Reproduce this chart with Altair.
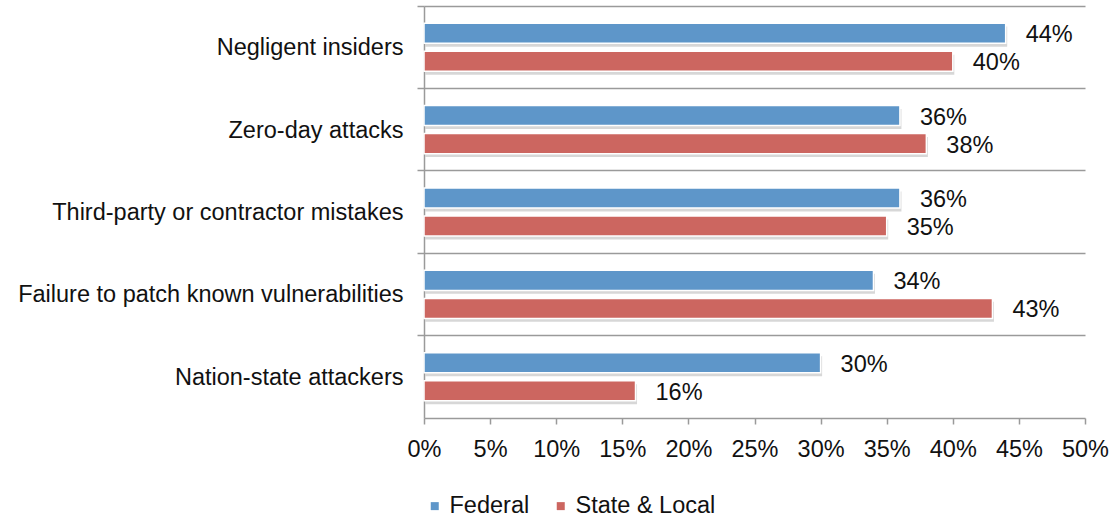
import altair as alt
import pandas as pd

# Survey categories, top to bottom
categories = [
    "Negligent insiders",
    "Zero-day attacks",
    "Third-party or contractor mistakes",
    "Failure to patch known vulnerabilities",
    "Nation-state attackers",
]
series = ["Federal", "State & Local"]
federal = [44, 36, 36, 34, 30]
state_local = [40, 38, 35, 43, 16]
x_ticks = [0, 5, 10, 15, 20, 25, 30, 35, 40, 45, 50]

rows = []
for cat, f, s in zip(categories, federal, state_local):
    rows.append({"category": cat, "series": series[0], "value": f})
    rows.append({"category": cat, "series": series[1], "value": s})
df = pd.DataFrame(rows)

FONT = "Liberation Sans"
FS = 23.5
AXIS_GREY = "#9a9a9a"
TEXT = "#111111"
colors = ["#5e96c9", "#cc6660"]

y_enc = alt.Y(
    "category:N",
    sort=categories,
    title=None,
    scale=alt.Scale(paddingInner=0, paddingOuter=0),
    axis=alt.Axis(
        bandPosition=0,
        grid=True,
        gridColor=AXIS_GREY,
        gridWidth=1.5,
        domainColor=AXIS_GREY,
        domainWidth=1.5,
        tickColor=AXIS_GREY,
        tickWidth=1.5,
        tickSize=7,
        labelFont=FONT,
        labelFontSize=FS,
        labelColor=TEXT,
        labelPadding=14,
        labelLimit=420,
        labelOffset=1,
    ),
)
x_enc = alt.X(
    "value:Q",
    title=None,
    scale=alt.Scale(domain=[0, 50], nice=False),
    axis=alt.Axis(
        values=x_ticks,
        labelExpr="datum.value + '%'",
        labelFlush=False,
        labelOverlap=False,
        grid=False,
        domainColor=AXIS_GREY,
        domainWidth=1.5,
        tickColor=AXIS_GREY,
        tickWidth=1.5,
        tickSize=6,
        labelFont=FONT,
        labelFontSize=FS,
        labelColor=TEXT,
        labelPadding=13,
    ),
)


def offset(align=0.5):
    # two bars per category band, placed around the band's middle
    return alt.YOffset(
        "series:N",
        sort=series,
        scale=alt.Scale(
            type="band", paddingInner=0.2857, paddingOuter=0.612, align=align
        ),
    )


# drop shadow: same bands nudged a few pixels downward
shadow = alt.Chart(df).mark_bar(
    color="#7a7a7a", opacity=0.3, xOffset=1.5
).encode(y=y_enc, yOffset=offset(0.6), x=x_enc)

bars = alt.Chart(df).mark_bar(stroke="white", strokeWidth=1.5).encode(
    y=y_enc,
    yOffset=offset(),
    x=x_enc,
    color=alt.Color(
        "series:N",
        sort=series,
        scale=alt.Scale(domain=series, range=colors),
        legend=alt.Legend(
            title=None,
            orient="none",
            legendX=-1,
            legendY=488,
            direction="horizontal",
            symbolType="square",
            symbolSize=64,
            symbolStrokeWidth=0,
            labelFont=FONT,
            labelFontSize=FS,
            labelColor=TEXT,
            columnPadding=19,
            labelOffset=3,
        ),
    ),
)

labels = alt.Chart(df).mark_text(
    align="left", baseline="middle", dx=20, dy=2,
    font=FONT, fontSize=FS, color=TEXT,
).encode(
    y=y_enc, yOffset=offset(), x=x_enc, text=alt.Text("label:N")
).transform_calculate(label="datum.value + '%'")

chart = (
    alt.layer(shadow, bars, labels)
    .resolve_scale(yOffset="independent")
    .properties(
        width=661,
        height=412,
        autosize=alt.AutoSizeParams(type="none"),
        padding={"left": 424, "top": 6, "right": 29, "bottom": 100},
        background="white",
    )
    .configure_view(stroke=None)
)

chart.save("out.html", embed_options={"renderer": "svg", "actions": False})
